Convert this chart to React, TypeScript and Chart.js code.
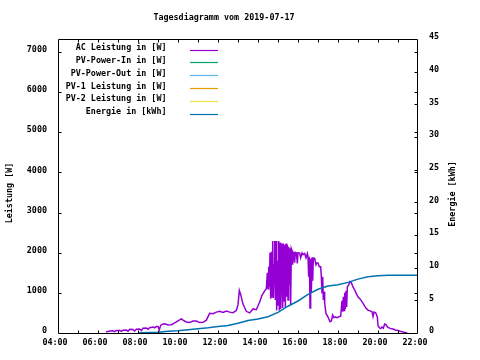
import React, { useEffect, useRef } from "react";
import { Chart, registerables } from "chart.js";

Chart.register(...registerables);

const FONT_FAMILY = "'DejaVu Sans Mono', 'Liberation Mono', monospace";
const FONT_SIZE = 8.4;
const FONT_WEIGHT = "bold";

const chartTitle = "Tagesdiagramm vom 2019-07-17";
const leftAxisTitle = "Leistung [W]";
const rightAxisTitle = "Energie [kWh]";

const seriesLabels = [
  "AC Leistung in [W]",
  "PV-Power-In in [W]",
  "PV-Power-Out in [W]",
  "PV-1 Leistung in [W]",
  "PV-2 Leistung in [W]",
  "Energie in [kWh]",
];
const seriesColors = ["#9400D3", "#009E73", "#56B4E9", "#E69F00", "#F0E442", "#0072B2"];

const xMinHour = 4;
const xMaxHour = 22;
const xTickHours = [4, 6, 8, 10, 12, 14, 16, 18, 20, 22];
const yLeftMax = 7320;
const yLeftTicks = [0, 1000, 2000, 3000, 4000, 5000, 6000, 7000];
const yRightMax = 45;
const yRightTicks = [0, 5, 10, 15, 20, 25, 30, 35, 40, 45];

// AC Leistung [W]
const acTimes = [
  "06:24", "06:30", "06:36", "06:45", "06:50", "06:55", "07:05", "07:10", "07:15", "07:25",
  "07:30", "07:35", "07:45", "07:50", "07:55", "08:05", "08:10", "08:15", "08:25", "08:30",
  "08:35", "08:45", "08:50", "08:55", "09:00", "09:04", "09:08", "09:15", "09:20", "09:30",
  "09:40", "09:50", "10:00", "10:10", "10:15", "10:25", "10:35", "10:45", "10:55", "11:05",
  "11:15", "11:25", "11:35", "11:45", "11:55", "12:05", "12:15", "12:25", "12:35", "12:45",
  "12:55", "13:00", "13:04", "13:08", "13:15", "13:25", "13:35", "13:45", "13:55", "14:05",
  "14:12", "14:20", "14:25", "14:28", "14:30", "14:32", "14:34", "14:36", "14:38", "14:40",
  "14:42", "14:44", "14:46", "14:48", "14:50", "14:52", "14:54", "14:56", "14:58", "15:00",
  "15:02", "15:04", "15:06", "15:08", "15:10", "15:12", "15:14", "15:16", "15:18", "15:20",
  "15:22", "15:24", "15:26", "15:28", "15:30", "15:32", "15:34", "15:36", "15:38", "15:40",
  "15:42", "15:44", "15:46", "15:48", "15:50", "15:52", "15:55", "15:58", "16:00", "16:05",
  "16:08", "16:12", "16:15", "16:20", "16:24", "16:28", "16:30", "16:32", "16:34", "16:36",
  "16:38", "16:40", "16:42", "16:44", "16:46", "16:50", "16:54", "16:56", "17:00", "17:04",
  "17:08", "17:10", "17:12", "17:14", "17:16", "17:18", "17:20", "17:24", "17:28", "17:32",
  "17:36", "17:40", "17:44", "17:48", "17:52", "17:56", "18:00", "18:04", "18:08", "18:12",
  "18:14", "18:16", "18:18", "18:20", "18:22", "18:24", "18:26", "18:28", "18:32", "18:36",
  "18:40", "18:45", "18:50", "18:55", "19:00", "19:06", "19:12", "19:18", "19:21", "19:26",
  "19:30", "19:36", "19:42", "19:45", "19:48", "19:53", "19:56", "19:58", "20:00", "20:04",
  "20:08", "20:12", "20:16", "20:20", "20:24", "20:28", "20:36", "20:45", "20:52", "21:00",
  "21:10", "21:20", "21:28",
];
const acWatts = [
  25, 40, 50, 55, 35, 60, 65, 40, 70, 75,
  45, 90, 85, 50, 95, 100, 60, 120, 125, 95,
  130, 150, 130, 160, 160, 80, 190, 225, 230, 200,
  205, 250, 300, 350, 320, 275, 260, 300, 300, 260,
  265, 320, 490, 480, 520, 540, 510, 545, 520, 505,
  560, 700, 1060, 960, 720, 540, 500, 600, 580, 770,
  940, 1050, 1100, 1500, 1100, 1650, 1150, 2000, 850, 2020,
  900, 2290, 870, 1700, 2290, 820, 2290, 560, 1800, 700,
  2290, 560, 2250, 600, 1400, 2230, 620, 2230, 800, 2200,
  650, 2230, 900, 2200, 820, 2150, 1200, 2110, 700, 2100,
  2050, 1700, 2000, 2000, 1750, 2010, 2000, 1730, 2000, 1990,
  1870, 1990, 1950, 1980, 1870, 1980, 1900, 1400, 1900, 620,
  1850, 1000, 1880, 1300, 1870, 1860, 1700, 1740, 1740, 1650,
  1650, 1400, 1000, 1400, 820, 1030, 750, 480, 430, 360,
  280, 300, 450, 380, 400, 380, 390, 410, 420, 800,
  530, 900, 560, 1000, 600, 1050, 650, 1150, 1200, 1280,
  1250, 1150, 1070, 980, 900, 850, 780, 700, 655, 600,
  570, 550, 530, 410, 520, 500, 450, 400, 180, 130,
  110, 150, 120, 225, 210, 150, 115, 100, 75, 60,
  35, 15, 0,
];

// Energie [kWh]
const energyTimes = [
  "08:00", "08:15", "09:00", "09:30", "10:00", "10:30", "11:00", "11:30", "12:00", "12:30",
  "13:00", "13:30", "14:00", "14:30", "15:00", "15:30", "16:00", "16:30", "17:00", "17:30",
  "18:00", "18:30", "19:00", "19:30", "20:00", "20:30", "21:00", "22:00",
];
const energyKWh = [
  0.0, 0.05, 0.1, 0.25, 0.35, 0.5, 0.65, 0.8, 1.0, 1.15,
  1.5, 1.9, 2.15, 2.5, 3.15, 4.1, 4.9, 5.9, 6.7, 7.2,
  7.4, 7.75, 8.25, 8.6, 8.75, 8.83, 8.85, 8.85,
];

const toHour = (t: string) => {
  const [h, m] = t.split(":").map(Number);
  return h + m / 60;
};
const pad2 = (n: number) => (n < 10 ? "0" + n : String(n));

const font = `${FONT_WEIGHT} ${FONT_SIZE}px ${FONT_FAMILY}`;

const decorPlugin = {
  id: "gnuplotDecor",
  afterDraw(chart: any) {
    const { ctx, chartArea: a, scales } = chart;
    ctx.save();
    ctx.strokeStyle = "#000";
    ctx.lineWidth = 1;
    const L = Math.round(a.left) + 0.5;
    const R = Math.round(a.right) - 0.5;
    const T = Math.round(a.top) + 0.5;
    const B = Math.round(a.bottom) + 0.5;
    ctx.beginPath();
    ctx.rect(L, T, R - L, B - T);
    ctx.stroke();
    const tl = 3;
    ctx.beginPath();
    const xs = scales.x;
    for (let h = xMinHour + 1; h < xMaxHour; h += 1) {
      const px = Math.round(xs.getPixelForValue(h)) + 0.5;
      ctx.moveTo(px, B);
      ctx.lineTo(px, B - tl);
      ctx.moveTo(px, T);
      ctx.lineTo(px, T + tl);
    }
    const ys = scales.y;
    ys.ticks.forEach((t: any) => {
      if (t.value === 0) return;
      const py = Math.round(ys.getPixelForValue(t.value)) + 0.5;
      ctx.moveTo(L, py);
      ctx.lineTo(L + tl, py);
      ctx.moveTo(R, py);
      ctx.lineTo(R - tl, py);
    });
    const y2 = scales.y2;
    y2.ticks.forEach((t: any) => {
      if (t.value === 0 || t.value === yRightMax) return;
      const py = Math.round(y2.getPixelForValue(t.value)) + 0.5;
      ctx.moveTo(R, py);
      ctx.lineTo(R - tl, py);
    });
    ctx.stroke();

    ctx.fillStyle = "#000";
    ctx.font = font;
    ctx.textBaseline = "middle";
    ctx.textAlign = "center";
    ctx.fillText(chartTitle, 224, 17.5);

    ctx.save();
    ctx.translate(9.5, 193);
    ctx.rotate(-Math.PI / 2);
    ctx.fillText(leftAxisTitle, 0, 0);
    ctx.restore();

    ctx.save();
    ctx.translate(452.5, 194);
    ctx.rotate(-Math.PI / 2);
    ctx.fillText(rightAxisTitle, 0, 0);
    ctx.restore();

    chart.data.datasets.forEach((ds: any, i: number) => {
      const ly = 49.5 + i * 12.95;
      ctx.textAlign = "right";
      ctx.fillStyle = "#000";
      ctx.fillText(ds.label, 166.5, ly - 2);
      ctx.strokeStyle = ds.borderColor;
      ctx.lineWidth = 1.2;
      ctx.beginPath();
      ctx.moveTo(190, Math.round(ly) + 0.5);
      ctx.lineTo(218, Math.round(ly) + 0.5);
      ctx.stroke();
    });
    ctx.restore();
  },
};

export default function App() {
  const ref = useRef<HTMLCanvasElement | null>(null);

  useEffect(() => {
    if (!ref.current) return;
    const acData = acTimes.map((t, i) => ({ x: toHour(t), y: acWatts[i] }));
    const energyData = energyTimes.map((t, i) => ({ x: toHour(t), y: energyKWh[i] }));

    const makeDs = (i: number, data: any[], axis: string, order: number) => ({
      label: seriesLabels[i],
      data,
      borderColor: seriesColors[i],
      backgroundColor: seriesColors[i],
      borderWidth: 1.5,
      pointRadius: 0,
      fill: false,
      tension: 0,
      yAxisID: axis,
      order,
    });

    const tickFont = { family: FONT_FAMILY, size: FONT_SIZE, weight: FONT_WEIGHT };
    const setTicks = (vals: number[]) => (s: any) => {
      s.ticks = vals.map((v) => ({ value: v }));
    };

    const chart = new Chart(ref.current, {
      type: "line",
      data: {
        datasets: [
          makeDs(0, acData, "y", 1),
          makeDs(1, [], "y", 2),
          makeDs(2, [], "y", 2),
          makeDs(3, [], "y", 2),
          makeDs(4, [], "y", 2),
          makeDs(5, energyData, "y2", 0),
        ],
      },
      options: {
        responsive: false,
        animation: false,
        layout: { padding: { top: 39, left: 0, right: 0, bottom: 0 } },
        plugins: {
          legend: { display: false },
          title: { display: false },
          tooltip: { enabled: false },
        },
        scales: {
          x: {
            type: "linear",
            position: "bottom",
            min: xMinHour,
            max: xMaxHour,
            grid: { display: false, drawTicks: false },
            border: { display: false },
            afterBuildTicks: setTicks(xTickHours),
            ticks: {
              color: "#000",
              font: tickFont,
              padding: 5,
              labelOffset: -3,
              maxRotation: 0,
              autoSkip: false,
              callback: (v: any) => pad2(Number(v)) + ":00",
            },
            afterFit: (s: any) => {
              s.height = 27;
            },
          },
          y: {
            type: "linear",
            position: "left",
            min: 0,
            max: yLeftMax,
            grid: { display: false, drawTicks: false },
            border: { display: false },
            afterBuildTicks: setTicks(yLeftTicks),
            ticks: {
              color: "#000",
              font: tickFont,
              padding: 11,
              labelOffset: -2,
              autoSkip: false,
              callback: (v: any) => String(v),
            },
            afterFit: (s: any) => {
              s.width = 58;
            },
          },
          y2: {
            type: "linear",
            position: "right",
            min: 0,
            max: yRightMax,
            grid: { display: false, drawTicks: false },
            border: { display: false },
            afterBuildTicks: setTicks(yRightTicks),
            ticks: {
              color: "#000",
              font: tickFont,
              padding: 11,
              labelOffset: -2,
              autoSkip: false,
              callback: (v: any) => String(v),
            },
            afterFit: (s: any) => {
              s.width = 62;
            },
          },
        },
      } as any,
      plugins: [decorPlugin],
    });
    return () => chart.destroy();
  }, []);

  return (
    <div style={{ position: "absolute", left: 0, top: 0, width: 480, height: 360, background: "#fff" }}>
      <canvas ref={ref} width={480} height={360} style={{ display: "block" }} />
    </div>
  );
}
